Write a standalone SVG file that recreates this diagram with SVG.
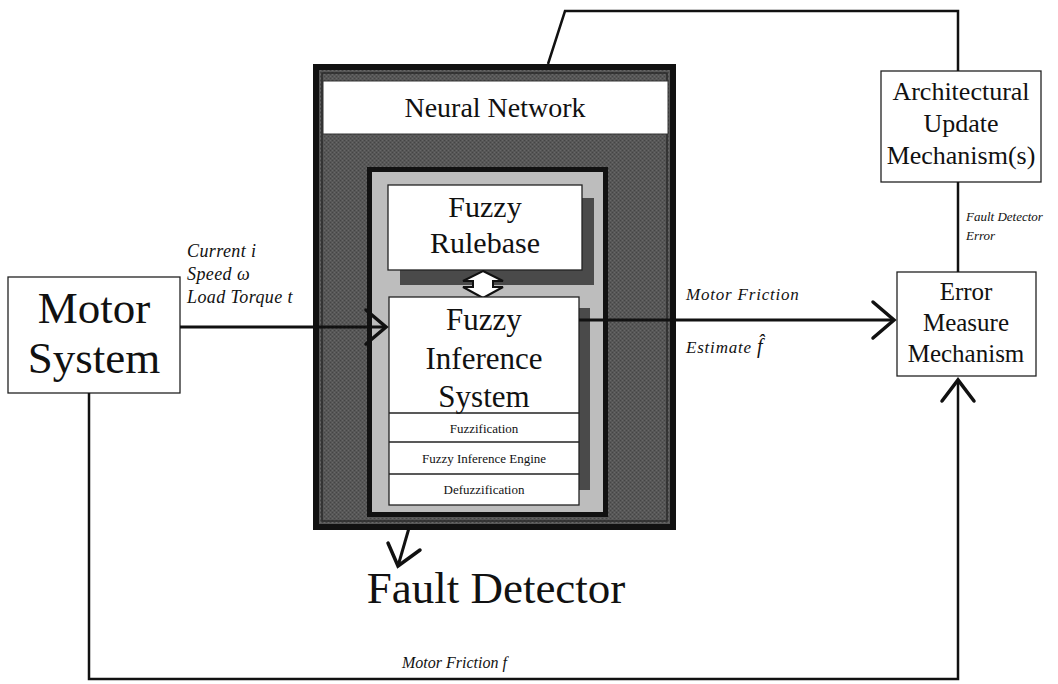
<svg xmlns="http://www.w3.org/2000/svg" width="1058" height="684" viewBox="0 0 1058 684">
  <defs>
    <!-- stippled dark grey fill of the neural network container -->
    <pattern id="stipple" width="4" height="4" patternUnits="userSpaceOnUse">
      <rect width="4" height="4" fill="#575757"/>
      <rect x="0" y="0" width="1" height="1" fill="#454545"/>
      <rect x="2" y="2" width="1" height="1" fill="#454545"/>
      <rect x="2" y="0" width="1" height="1" fill="#686868"/>
      <rect x="0" y="2" width="1" height="1" fill="#686868"/>
    </pattern>
    <style>
      .box { fill: #ffffff; stroke: #222; stroke-width: 1.3; }
      .line { fill: none; stroke: #111; stroke-width: 3; stroke-linejoin: miter; }
      .thin { fill: none; stroke: #111; stroke-width: 2.5; }
      .head { fill: none; stroke: #111; stroke-width: 3.5; stroke-linecap: round; stroke-linejoin: miter; }
      .serif { font-family: "Liberation Serif", "Times New Roman", serif; fill: #111; text-anchor: middle; }
      .ital { font-family: "Liberation Serif", "Times New Roman", serif; font-style: italic; fill: #111; }
      .shadow { fill: #4a4a4a; }
    </style>
  </defs>

  <rect width="1058" height="684" fill="#ffffff"/>

  <!-- fault detector: neural network container -->
  <g id="neural-network">
    <rect x="316" y="67" width="357" height="460" fill="url(#stipple)" stroke="#111" stroke-width="6"/>
    <rect x="322" y="73" width="345" height="448" fill="none" stroke="#2a2a2a" stroke-width="1.5"/>
    <rect x="323" y="81" width="345" height="53" fill="#ffffff" stroke="#333" stroke-width="1"/>
    <text class="serif" x="495" y="117" font-size="28">Neural Network</text>
  </g>

  <!-- fuzzy system panel -->
  <g id="fuzzy-system">
    <rect x="369.5" y="169.5" width="236" height="345" fill="#bdbdbd" stroke="#111" stroke-width="5"/>
  </g>

  <g id="fuzzy-rulebase">
    <rect class="shadow" x="400" y="198" width="194" height="87"/>
    <rect class="box" x="388" y="185" width="194" height="85"/>
    <text class="serif" x="485" y="217" font-size="30">Fuzzy</text>
    <text class="serif" x="485" y="253" font-size="30">Rulebase</text>
  </g>

  <!-- bidirectional link between rulebase and inference system -->
  <g id="rulebase-link">
    <path d="M483,271 L503,281 L493,281 L493,287 L503,287 L483,298 L463,287 L473,287 L473,281 L463,281 Z" fill="#ffffff" stroke="#111" stroke-width="2" stroke-linejoin="miter"/>
  </g>

  <g id="fuzzy-inference-system">
    <rect class="shadow" x="400" y="308" width="190" height="182"/>
    <rect class="box" x="389" y="297" width="190" height="208"/>
    <text class="serif" x="484" y="330" font-size="31">Fuzzy</text>
    <text class="serif" x="484" y="369" font-size="31">Inference</text>
    <text class="serif" x="484" y="407" font-size="31">System</text>
    <line x1="389" y1="413" x2="579" y2="413" stroke="#222" stroke-width="1.3"/>
    <line x1="389" y1="442" x2="579" y2="442" stroke="#222" stroke-width="1.3"/>
    <line x1="389" y1="474" x2="579" y2="474" stroke="#222" stroke-width="1.3"/>
    <text class="serif" x="484" y="433" font-size="13">Fuzzification</text>
    <text class="serif" x="484" y="463" font-size="13">Fuzzy Inference Engine</text>
    <text class="serif" x="484" y="494" font-size="13">Defuzzification</text>
  </g>

  <g id="motor-system">
    <rect class="box" x="8" y="277" width="172" height="116"/>
    <text class="serif" x="94" y="323" font-size="45">Motor</text>
    <text class="serif" x="94" y="373" font-size="45">System</text>
  </g>

  <g id="architectural-update">
    <rect class="box" x="881" y="71" width="160" height="111"/>
    <text class="serif" x="961" y="100" font-size="26">Architectural</text>
    <text class="serif" x="961" y="132" font-size="26">Update</text>
    <text class="serif" x="961" y="164" font-size="26">Mechanism(s)</text>
  </g>

  <g id="error-measure">
    <rect class="box" x="897" y="272" width="139" height="104"/>
    <text class="serif" x="966" y="300" font-size="25">Error</text>
    <text class="serif" x="966" y="331" font-size="25">Measure</text>
    <text class="serif" x="966" y="362" font-size="25">Mechanism</text>
  </g>

  <g id="fault-detector-label">
    <text class="serif" x="496" y="603" font-size="45">Fault Detector</text>
  </g>

  <!-- connectors -->
  <g id="connectors">
    <!-- top loop: container to architectural update -->
    <polyline class="thin" points="548,64 565,11 958,11 958,71"/>
    <!-- architectural update to error measure -->
    <line class="thin" x1="958" y1="182" x2="958" y2="272"/>
    <!-- motor system inputs -->
    <line class="line" x1="180" y1="327" x2="386" y2="327"/>
    <polyline class="head" points="366,310 386,327 366,344"/>
    <!-- motor friction estimate -->
    <line class="line" x1="579" y1="320" x2="894" y2="320"/>
    <polyline class="head" points="873,302 894,320 873,338"/>
    <!-- measured friction feedback -->
    <polyline class="thin" points="89,393 89,679 958,679 958,380"/>
    <polyline class="head" points="942,401 958,380 974,401"/>
    <!-- to fault detector label -->
    <line class="line" x1="409" y1="528" x2="398" y2="566"/>
    <polyline class="head" points="388,543 398,566 420,550"/>
  </g>

  <!-- connector labels -->
  <g id="labels">
    <text class="ital" x="187" y="257" font-size="18" letter-spacing="0.4">Current i</text>
    <text class="ital" x="187" y="280" font-size="18" letter-spacing="0.4">Speed ω</text>
    <text class="ital" x="187" y="303" font-size="18" letter-spacing="0.4">Load Torque t</text>
    <text class="ital" x="686" y="300" font-size="17" letter-spacing="0.8">Motor Friction</text>
    <text class="ital" x="686" y="353" font-size="17" letter-spacing="0.8">Estimate <tspan font-size="20">f̂</tspan></text>
    <text class="ital" x="966" y="221" font-size="13">Fault Detector</text>
    <text class="ital" x="966" y="240" font-size="13">Error</text>
    <text class="ital" x="402" y="668" font-size="16">Motor Friction f</text>
  </g>
</svg>
